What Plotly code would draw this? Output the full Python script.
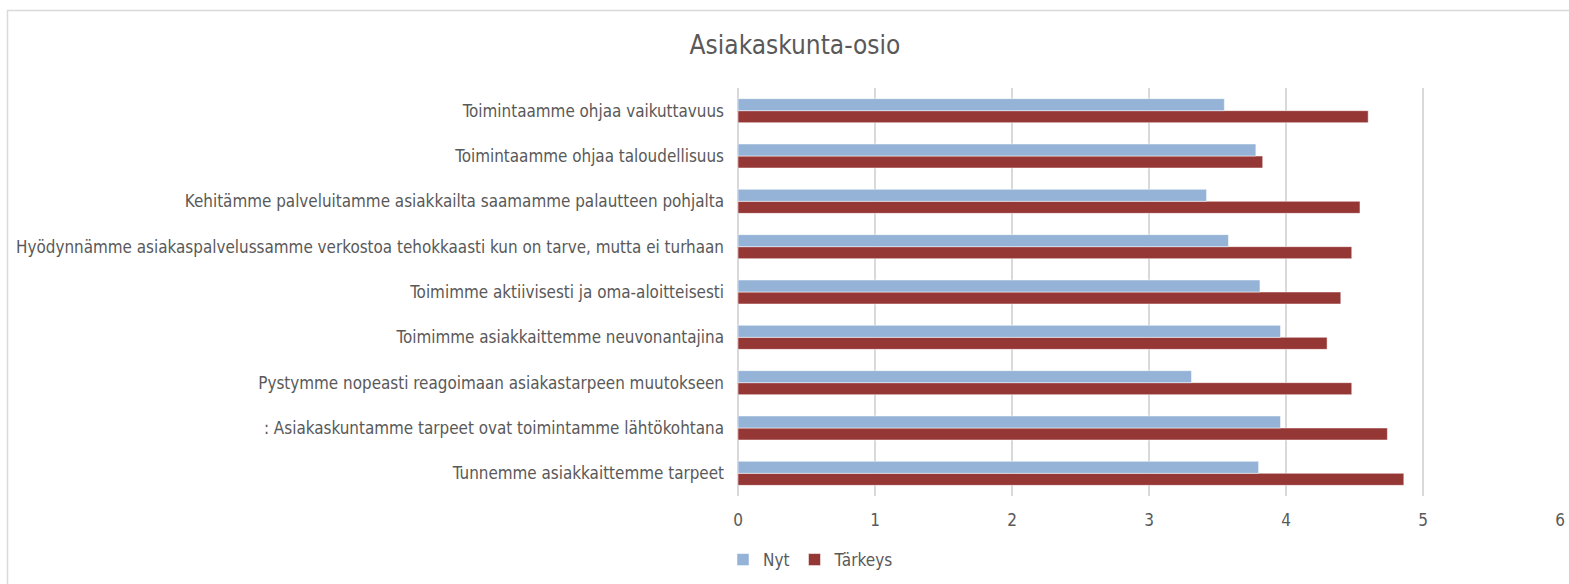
import plotly.graph_objects as go

categories = [
    "Tunnemme asiakkaittemme tarpeet",
    ": Asiakaskuntamme tarpeet ovat toimintamme lähtökohtana",
    "Pystymme nopeasti reagoimaan asiakastarpeen muutokseen",
    "Toimimme asiakkaittemme neuvonantajina",
    "Toimimme aktiivisesti ja oma-aloitteisesti",
    "Hyödynnämme asiakaspalvelussamme verkostoa tehokkaasti kun on tarve, mutta ei turhaan",
    "Kehitämme palveluitamme asiakkailta saamamme palautteen pohjalta",
    "Toimintaamme ohjaa taloudellisuus",
    "Toimintaamme ohjaa vaikuttavuus",
]
nyt = [3.80, 3.96, 3.31, 3.96, 3.81, 3.58, 3.42, 3.78, 3.55]
tarkeys = [4.86, 4.74, 4.48, 4.30, 4.40, 4.48, 4.54, 3.83, 4.60]
x_ticks = [0, 1, 2, 3, 4, 5, 6]

W, H = 1569, 584
ML, MR, MT, MB = 738, 9, 88, 88
pw = W - ML - MR
ph = H - MT - MB

font = "DejaVu Sans Condensed, DejaVu Sans, sans-serif"
gray = "#595959"

fig = go.Figure()
fig.add_trace(go.Bar(y=categories, x=tarkeys, name="Tärkeys", orientation="h",
                     marker=dict(color="#953735", line=dict(color="#ffffff", width=0.5)),
                     legendrank=2))
fig.add_trace(go.Bar(y=categories, x=nyt, name="Nyt", orientation="h",
                     marker=dict(color="#95B3D7", line=dict(color="#ffffff", width=0.5)),
                     legendrank=1))

def px_x(p):
    return (p - ML) / pw

def px_y(p):
    return 1 - (p - MT) / ph

fig.update_layout(
    width=W, height=H,
    margin=dict(l=ML, r=MR, t=MT, b=MB, autoexpand=False),
    paper_bgcolor="white", plot_bgcolor="white",
    barmode="group", bargap=0.47, bargroupgap=0,
    font=dict(family=font, color=gray, size=17),
    title=dict(text="Asiakaskunta-osio", x=795 / W, xanchor="center", xref="container",
               y=1 - 45 / H, yanchor="middle", yref="container",
               font=dict(size=26, color=gray, family=font)),
    legend=dict(orientation="h", x=px_x(723), xanchor="left", y=px_y(560), yanchor="middle",
                font=dict(size=17, color=gray), itemwidth=30, tracegroupgap=0),
    showlegend=True,
    xaxis=dict(range=[0, 6], tickvals=x_ticks, showgrid=True, gridcolor="#D9D9D9", gridwidth=1.5,
               zeroline=True, zerolinecolor="#D9D9D9", zerolinewidth=1.5,
               showline=False, ticks="", tickfont=dict(size=17, color=gray),
               ticklabelstandoff=12, fixedrange=True, automargin=False),
    yaxis=dict(showgrid=False, ticks="", tickfont=dict(size=16.9, color=gray),
               ticklabelstandoff=13, showline=False, automargin=False),
    shapes=[dict(type="rect", xref="paper", yref="paper",
                 x0=px_x(7.5), x1=px_x(1580), y0=px_y(600), y1=px_y(10.5),
                 line=dict(color="#D9D9D9", width=1.5), fillcolor="rgba(0,0,0,0)", layer="below")],
)

fig.write_html("out.html", config={"displayModeBar": False},
               post_script="document.body.style.margin='0';document.body.style.padding='0';")
